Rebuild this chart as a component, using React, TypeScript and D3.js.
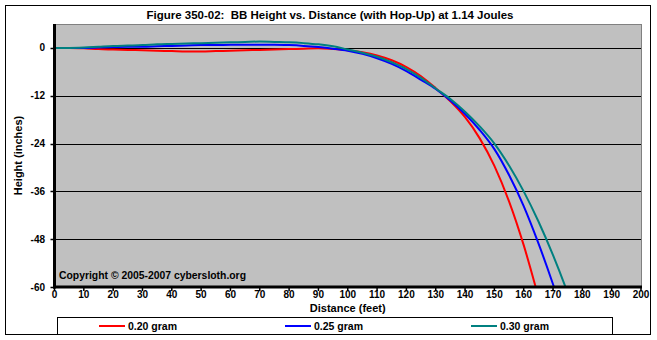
import React from "react";
import * as d3 from "d3";

const distances = [0, 5, 10, 15, 20, 25, 30, 35, 40, 45, 50, 55, 60, 65, 70, 75, 80, 85, 90, 95, 100, 105, 110, 115, 120, 125, 130, 135, 140, 145, 150, 155, 160, 165, 170, 175, 180];
const red020 = [0, 0, -0.1, -0.3, -0.4, -0.5, -0.6, -0.7, -0.8, -0.9, -0.9, -0.8, -0.7, -0.6, -0.5, -0.4, -0.3, -0.2, -0.1, -0.3, -0.6, -1.1, -1.9, -3.1, -4.8, -7.1, -10.1, -13.4, -17.4, -22.7, -29.6, -38.5, -49.5, -62.5];
const blue025 = [0, 0, 0, 0.1, 0.2, 0.3, 0.3, 0.4, 0.5, 0.6, 0.7, 0.7, 0.8, 0.8, 0.8, 0.8, 0.7, 0.5, 0.2, -0.2, -0.7, -1.5, -2.6, -4.0, -5.8, -8.0, -10.3, -13.2, -16.6, -20.6, -25.4, -31.9, -39.7, -49.0, -59.3, -70.5];
const teal030 = [0, 0, 0.1, 0.3, 0.5, 0.6, 0.7, 0.9, 1.0, 1.1, 1.2, 1.3, 1.4, 1.5, 1.6, 1.5, 1.4, 1.2, 0.9, 0.4, -0.4, -1.2, -2.2, -3.6, -5.3, -7.5, -10.2, -12.8, -16.0, -19.7, -24.0, -29.5, -36.0, -43.5, -52.0, -61.5, -72.0];
const seriesNames = ["0.20 gram", "0.25 gram", "0.30 gram"];
const seriesColors = ["#FF0000", "#0000FF", "#008080"];
const xTicks = [0, 10, 20, 30, 40, 50, 60, 70, 80, 90, 100, 110, 120, 130, 140, 150, 160, 170, 180, 190, 200];
const yTicks = [0, -12, -24, -36, -48, -60];

const W = 657, H = 340;
const PL = 54.5, PR = 641, PT = 24, PB = 287;

export default function App() {
  const x = d3.scaleLinear().domain([0, 200]).range([PL, PR]);
  const y = d3.scaleLinear().domain([-60, 6]).range([PB, PT]);
  const all = [red020, blue025, teal030];
  const line = d3
    .line<[number, number]>()
    .x((d) => x(d[0]))
    .y((d) => y(d[1]))
    .curve(d3.curveMonotoneX);
  const font = "'Liberation Sans', Arial, sans-serif";
  const legendX = [99, 285, 471];
  return (
    <svg width={W} height={H} style={{ position: "absolute", left: 0, top: 0, display: "block" }} fontFamily={font}>
      <rect x={0} y={0} width={W} height={H} fill="#fff" />
      <rect x={5.5} y={5.5} width={645} height={329} fill="none" stroke="#000" strokeWidth={1} />
      <text x={330} y={19} textAnchor="middle" fontSize={11} fontWeight="bold" style={{ whiteSpace: "pre" }} textLength={367} lengthAdjust="spacingAndGlyphs">
        {"Figure 350-02:  BB Height vs. Distance (with Hop-Up) at 1.14 Joules"}
      </text>
      <defs>
        <clipPath id="plotclip">
          <rect x={PL} y={PT} width={PR - PL} height={PB - PT} />
        </clipPath>
      </defs>
      <rect x={PL} y={PT} width={PR - PL} height={PB - PT} fill="#C0C0C0" />
      <line x1={PL} x2={PR + 0.5} y1={PT + 0.5} y2={PT + 0.5} stroke="#808080" />
      <line x1={PR + 0.5} x2={PR + 0.5} y1={PT} y2={PB} stroke="#808080" />
      {yTicks.slice(0, 5).map((t) => (
        <line key={t} x1={PL} x2={PR} y1={Math.round(y(t)) + 0.5} y2={Math.round(y(t)) + 0.5} stroke="#000" strokeWidth={1} />
      ))}
      <g clipPath="url(#plotclip)">
        {all.map((vals, i) => (
          <path
            key={i}
            d={line(vals.map((v, j) => [distances[j], v] as [number, number])) || ""}
            fill="none"
            stroke={seriesColors[i]}
            strokeWidth={2}
          />
        ))}
      </g>
      <line x1={PL} x2={PL} y1={PT} y2={PB + 1.5} stroke="#000" strokeWidth={3} />
      <line x1={PL - 1.5} x2={PR + 1} y1={PB} y2={PB} stroke="#000" strokeWidth={3} />
      {yTicks.map((t) => (
        <g key={t}>
          <line x1={PL - 4} x2={PL} y1={Math.round(y(t)) + 0.5} y2={Math.round(y(t)) + 0.5} stroke="#000" strokeWidth={1.5} />
          <text x={45} y={y(t) + 3.5} textAnchor="end" fontSize={10} fontWeight="bold">
            {t}
          </text>
        </g>
      ))}
      {xTicks.map((t) => (
        <g key={t}>
          <line x1={x(t)} x2={x(t)} y1={PB} y2={PB + 4} stroke="#000" strokeWidth={1.5} />
          <text x={x(t)} y={297.5} textAnchor="middle" fontSize={10} fontWeight="bold">
            {t}
          </text>
        </g>
      ))}
      <text x={(PL + PR) / 2} y={312} textAnchor="middle" fontSize={11} fontWeight="bold">
        Distance (feet)
      </text>
      <text transform={`translate(22,${(PT + PB) / 2}) rotate(-90)`} textAnchor="middle" fontSize={11} fontWeight="bold">
        Height (inches)
      </text>
      <text x={59} y={278.5} fontSize={10} fontWeight="bold" textLength={187} lengthAdjust="spacingAndGlyphs">
        Copyright © 2005-2007 cybersloth.org
      </text>
      <rect x={57.5} y={317.5} width={555} height={17} fill="#fff" stroke="#000" strokeWidth={1} />
      {seriesNames.map((n, i) => (
        <g key={n}>
          <line x1={legendX[i]} x2={legendX[i] + 26} y1={326} y2={326} stroke={seriesColors[i]} strokeWidth={2} />
          <text x={legendX[i] + 29} y={330} fontSize={10.5} fontWeight="bold">
            {n}
          </text>
        </g>
      ))}
    </svg>
  );
}
